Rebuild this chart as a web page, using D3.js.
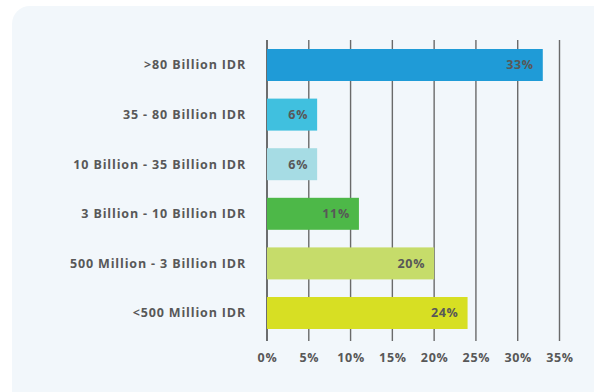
<!DOCTYPE html>
<html>
<head>
<meta charset="utf-8">
<script src="https://cdn.jsdelivr.net/npm/d3@7/dist/d3.min.js"></script>
<style>
  html, body { margin: 0; padding: 0; background: #ffffff; }
  svg { display: block; }
  text { font-family: "Open Sans", "Lato", sans-serif; font-weight: 700; fill: #585858; letter-spacing: 0.7px; }
</style>
</head>
<body>
<svg id="chart" width="594" height="392"></svg>
<script>
// Company revenue bands and their share of respondents (%)
const categories = [
  ">80 Billion IDR",
  "35 - 80 Billion IDR",
  "10 Billion - 35 Billion IDR",
  "3 Billion - 10 Billion IDR",
  "500 Million - 3 Billion IDR",
  "<500 Million IDR"
];
const values = [33, 6, 6, 11, 20, 24];
const barColors = ["#1f9bd7", "#40c0df", "#a6dce4", "#4db848", "#c6dc6a", "#d7df23"];
const tickValues = [0, 5, 10, 15, 20, 25, 30, 35];

const svg = d3.select("#chart");

// card background
svg.append("rect")
  .attr("x", 12).attr("y", 6)
  .attr("width", 600).attr("height", 405)
  .attr("rx", 18).attr("ry", 18)
  .attr("fill", "#f2f7fb");

const x = d3.scaleLinear().domain([0, 35]).range([267, 559.5]);
const y = d3.scaleBand().domain(categories).range([44, 334])
  .paddingInner(0.355).paddingOuter(0.101);

const gridTop = 40, gridBottom = 341;

// vertical grid lines
svg.append("g").selectAll("line")
  .data(tickValues)
  .join("line")
  .attr("x1", d => x(d)).attr("x2", d => x(d))
  .attr("y1", gridTop).attr("y2", gridBottom)
  .attr("stroke", d => d === 0 ? "#333333" : "#6a6a6a")
  .attr("stroke-width", 1.4);

// bars
svg.append("g").selectAll("rect")
  .data(values)
  .join("rect")
  .attr("x", x(0))
  .attr("y", (d, i) => y(categories[i]))
  .attr("width", d => x(d) - x(0))
  .attr("height", y.bandwidth())
  .attr("fill", (d, i) => barColors[i]);

// value labels inside bars
svg.append("g").selectAll("text")
  .data(values)
  .join("text")
  .attr("x", d => x(d) - 9)
  .attr("y", (d, i) => y(categories[i]) + y.bandwidth() / 2)
  .attr("dy", "0.35em")
  .attr("text-anchor", "end")
  .attr("font-size", 12.5)
  .text(d => d + "%");

// category axis labels
svg.append("g").selectAll("text")
  .data(categories)
  .join("text")
  .attr("x", 246)
  .attr("y", d => y(d) + y.bandwidth() / 2)
  .attr("dy", "0.35em")
  .attr("text-anchor", "end")
  .attr("font-size", 12.5)
  .style("letter-spacing", "0.85px")
  .text(d => d);

// percentage axis
const xAxis = d3.axisBottom(x).tickValues(tickValues).tickSize(0).tickPadding(0)
  .tickFormat(d => d + "%");
const gx = svg.append("g").attr("transform", `translate(0, ${gridBottom})`).call(xAxis);
gx.select(".domain").remove();
gx.selectAll("text")
  .attr("y", 17)
  .attr("dy", "0.35em")
  .attr("font-size", 12.5)
  .style("font-family", "'Open Sans', Lato, sans-serif")
  .style("font-weight", 700)
  .style("fill", "#585858");
</script>
</body>
</html>
